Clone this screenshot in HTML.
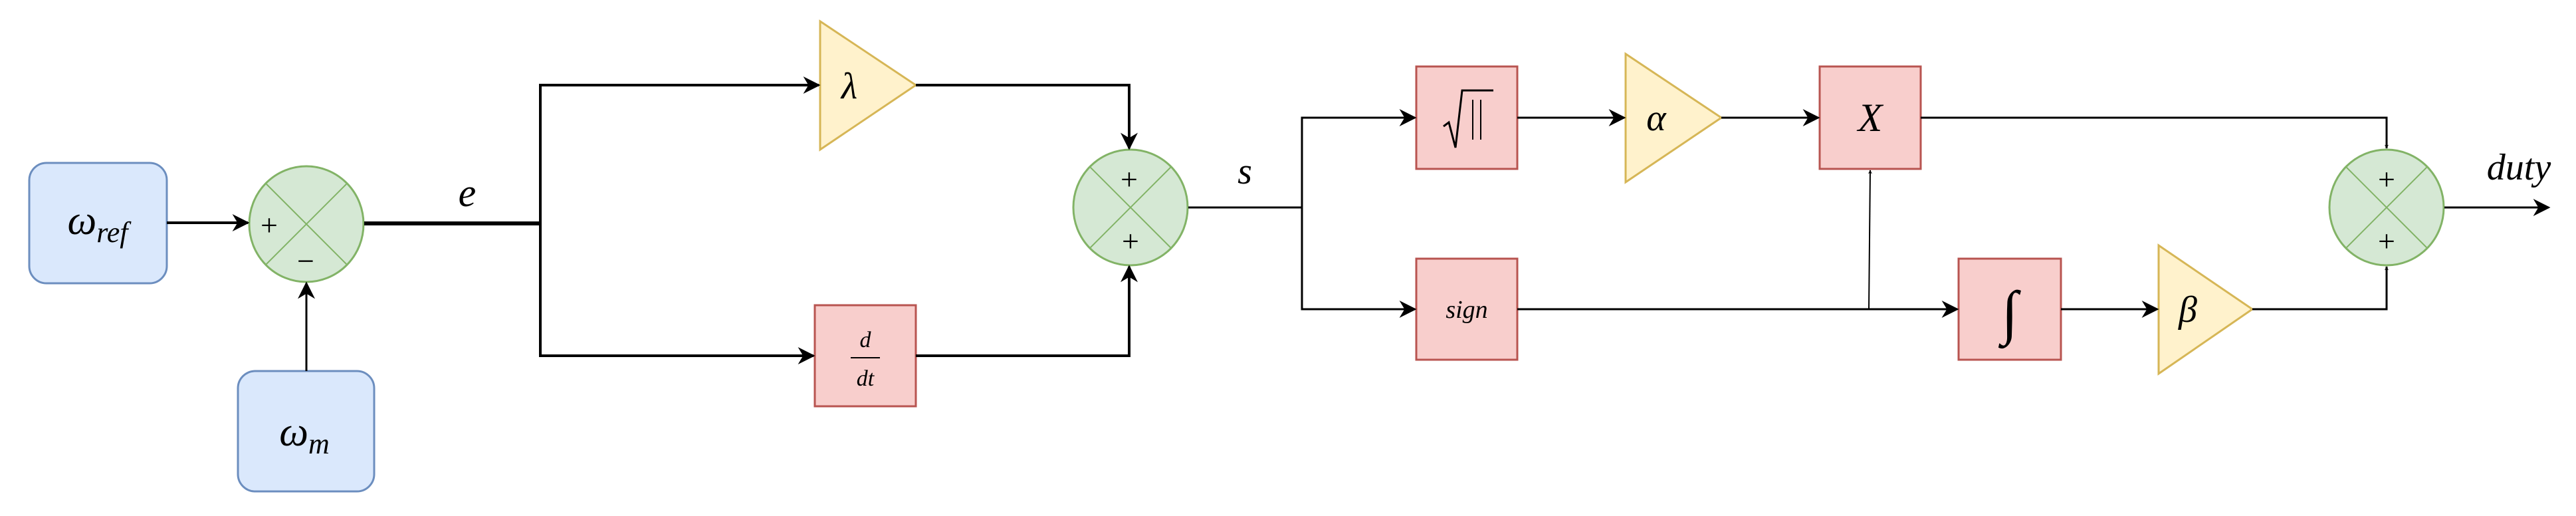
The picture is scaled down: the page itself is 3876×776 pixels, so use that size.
<!DOCTYPE html>
<html><head><meta charset="utf-8"><style>html,body{margin:0;padding:0;background:#fff}svg{display:block}text{font-family:"Liberation Serif","DejaVu Serif",serif;font-style:italic;fill:#000}</style></head>
<body>
<svg width="3876" height="776" viewBox="0 0 3876 776" xmlns="http://www.w3.org/2000/svg">
<defs>
<marker id="a" viewBox="0 0 10 10" refX="9" refY="5" markerWidth="6" markerHeight="6" markerUnits="userSpaceOnUse" orient="auto"><path d="M0,0 L10,5 L0,10 L3,5 z" fill="#000"/></marker>
<marker id="b" viewBox="0 0 10 10" refX="9" refY="5" markerWidth="26" markerHeight="26" markerUnits="userSpaceOnUse" orient="auto"><path d="M0,0 L10,5 L0,10 L3,5 z" fill="#000"/></marker>
</defs>
<!-- boxes -->
<rect x="44" y="245" width="207" height="181" rx="26" fill="#dae8fc" stroke="#6c8ebf" stroke-width="3"/>
<rect x="358" y="558" width="205" height="181" rx="26" fill="#dae8fc" stroke="#6c8ebf" stroke-width="3"/>
<text x="147" y="352" font-size="62" text-anchor="middle">ω<tspan font-size="44" dy="12">ref</tspan></text>
<text x="458" y="670" font-size="62" text-anchor="middle">ω<tspan font-size="44" dy="12">m</tspan></text>
<!-- sum1 -->
<ellipse cx="461" cy="337" rx="86" ry="87" fill="#d5e8d4" stroke="#82b366" stroke-width="3"/>
<path d="M400,276 L522,398 M522,276 L400,398" stroke="#82b366" stroke-width="2"/>
<text x="405" y="354" font-size="46" font-style="normal" text-anchor="middle" style="font-style:normal">+</text>
<text x="460" y="408" font-size="46" text-anchor="middle" style="font-style:normal">−</text>
<!-- sum2 -->
<ellipse cx="1701" cy="312" rx="86" ry="87" fill="#d5e8d4" stroke="#82b366" stroke-width="3"/>
<path d="M1640,251 L1762,373 M1762,251 L1640,373" stroke="#82b366" stroke-width="2"/>
<text x="1699" y="285" font-size="46" text-anchor="middle" style="font-style:normal">+</text>
<text x="1701" y="378" font-size="46" text-anchor="middle" style="font-style:normal">+</text>
<!-- sum3 -->
<ellipse cx="3591" cy="312" rx="86" ry="87" fill="#d5e8d4" stroke="#82b366" stroke-width="3"/>
<path d="M3530,251 L3652,373 M3652,251 L3530,373" stroke="#82b366" stroke-width="2"/>
<text x="3591" y="285" font-size="46" text-anchor="middle" style="font-style:normal">+</text>
<text x="3591" y="378" font-size="46" text-anchor="middle" style="font-style:normal">+</text>
<!-- triangles -->
<path d="M1234,32 L1378,128 L1234,225 Z" fill="#fff2cc" stroke="#d6b656" stroke-width="3"/>
<text x="1278" y="148" font-size="56" text-anchor="middle">λ</text>
<path d="M2446,81 L2590,177 L2446,274 Z" fill="#fff2cc" stroke="#d6b656" stroke-width="3"/>
<text x="2492" y="196" font-size="56" text-anchor="middle">α</text>
<path d="M3248,369 L3389,465 L3248,562 Z" fill="#fff2cc" stroke="#d6b656" stroke-width="3"/>
<text x="3292" y="484" font-size="56" text-anchor="middle">β</text>
<!-- red boxes -->
<rect x="1226" y="459" width="152" height="152" fill="#f8cecc" stroke="#b85450" stroke-width="3"/>
<text x="1302" y="522" font-size="34" text-anchor="middle">d</text>
<line x1="1280" y1="538" x2="1324" y2="538" stroke="#000" stroke-width="2"/>
<text x="1302" y="580" font-size="34" text-anchor="middle">dt</text>
<rect x="2131" y="100" width="152" height="154" fill="#f8cecc" stroke="#b85450" stroke-width="3"/>
<path d="M2172,190 L2180,184 L2190,222 L2200,136 L2247,136" fill="none" stroke="#000" stroke-width="3"/>
<path d="M2216,150 L2216,210 M2228,150 L2228,210" stroke="#000" stroke-width="2"/>
<rect x="2738" y="100" width="152" height="154" fill="#f8cecc" stroke="#b85450" stroke-width="3"/>
<text x="2814" y="197" font-size="60" text-anchor="middle">X</text>
<rect x="2131" y="389" width="152" height="152" fill="#f8cecc" stroke="#b85450" stroke-width="3"/>
<text x="2207" y="478" font-size="38" text-anchor="middle">sign</text>
<rect x="2947" y="389" width="154" height="152" fill="#f8cecc" stroke="#b85450" stroke-width="3"/>
<text x="3024" y="500" font-size="90" text-anchor="middle">∫</text>
<!-- labels -->
<text x="703" y="310" font-size="60" text-anchor="middle">e</text>
<text x="1873" y="276" font-size="56" text-anchor="middle">s</text>
<text x="3790" y="270" font-size="56" text-anchor="middle">duty</text>
<!-- connectors -->
<g fill="none" stroke="#000">
<line x1="251" y1="335" x2="373" y2="335" stroke-width="4" marker-end="url(#b)"/>
<line x1="461" y1="558" x2="461" y2="426" stroke-width="3" marker-end="url(#b)"/>
<line x1="548" y1="336" x2="815" y2="336" stroke-width="6"/>
<polyline points="813,336 813,128 1232,128" stroke-width="4" marker-end="url(#b)"/>
<polyline points="813,336 813,535 1224,535" stroke-width="4" marker-end="url(#b)"/>
<polyline points="1378,128 1699,128 1699,223" stroke-width="4" marker-end="url(#b)"/>
<polyline points="1378,535 1699,535 1699,401" stroke-width="4" marker-end="url(#b)"/>
<line x1="1788" y1="312" x2="1959" y2="312" stroke-width="3"/>
<polyline points="1959,312 1959,177 2129,177" stroke-width="3" marker-end="url(#b)"/>
<polyline points="1959,312 1959,465 2129,465" stroke-width="3" marker-end="url(#b)"/>
<line x1="2283" y1="177" x2="2444" y2="177" stroke-width="3" marker-end="url(#b)"/>
<line x1="2590" y1="177" x2="2736" y2="177" stroke-width="3" marker-end="url(#b)"/>
<polyline points="2890,177 3591,177 3591,223" stroke-width="3" marker-end="url(#a)"/>
<line x1="2283" y1="465" x2="2945" y2="465" stroke-width="3" marker-end="url(#b)"/>
<line x1="2812" y1="465" x2="2814" y2="256" stroke-width="2" marker-end="url(#a)"/>
<line x1="3101" y1="465" x2="3246" y2="465" stroke-width="3" marker-end="url(#b)"/>
<polyline points="3389,465 3591,465 3591,401" stroke-width="3" marker-end="url(#a)"/>
<line x1="3678" y1="312" x2="3835" y2="312" stroke-width="3" marker-end="url(#b)"/>
</g>
</svg>
</body></html>
